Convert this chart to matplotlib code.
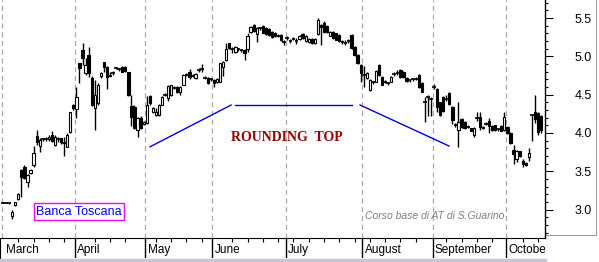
import matplotlib
matplotlib.use('Agg')
import matplotlib.pyplot as plt
from matplotlib.patches import Rectangle
from matplotlib.lines import Line2D
import numpy as np

plt.rcParams['font.family'] = ['Liberation Sans', 'DejaVu Sans']

months = ['March', 'April', 'May', 'June', 'July', 'August', 'September', 'October']
month_days = [24, 23, 22, 24, 25, 23, 24, 12]

# daily candles, one line per month
opens = [
    3.09, 3.09, 3.08, 2.92, 3.06, 3.14, 3.52, 3.56, 3.36, 3.48, 3.58, 3.96, 3.83, 3.92, 3.92, 3.92, 3.98, 3.84, 3.92, 3.93, 3.87, 3.82, 4.01, 4.36,
    4.31, 4.91, 5.08, 4.78, 5.02, 4.72, 4.33, 4.39, 4.74, 4.93, 4.86, 4.75, 4.78, 4.85, 4.83, 4.86, 4.86, 4.80, 4.35, 4.34, 4.04, 4.20, 4.12,
    4.13, 4.48, 4.27, 4.23, 4.23, 4.37, 4.50, 4.46, 4.49, 4.59, 4.60, 4.53, 4.63, 4.76, 4.80, 4.75, 4.72, 4.82, 4.84, 4.72, 4.72, 4.70,
    4.69, 4.66, 4.67, 4.86, 4.95, 5.17, 5.10, 5.06, 5.09, 5.08, 5.08, 5.10, 5.32, 5.41, 5.29, 5.37, 5.40, 5.37, 5.36, 5.32, 5.31, 5.27, 5.28, 5.19,
    5.24, 5.20, 5.23, 5.20, 5.23, 5.29, 5.20, 5.19, 5.23, 5.17, 5.29, 5.41, 5.44, 5.40, 5.27, 5.32, 5.30, 5.28, 5.19, 5.18, 5.20, 5.28, 5.12, 5.02, 4.89,
    4.76, 4.72, 4.56, 4.66, 4.67, 4.89, 4.73, 4.67, 4.65, 4.67, 4.77, 4.78, 4.82, 4.80, 4.72, 4.69, 4.70, 4.71, 4.76, 4.65, 4.40, 4.47, 4.44,
    4.60, 4.57, 4.40, 4.47, 4.45, 4.52, 4.34, 4.10, 4.04, 4.18, 4.14, 4.08, 4.06, 3.97, 4.19, 4.21, 4.06, 4.12, 4.15, 4.09, 4.10, 4.05, 4.09, 4.04,
    4.08, 4.00, 3.78, 3.66, 3.76, 3.63, 3.61, 3.69, 4.23, 4.27, 4.26, 4.22,
]
highs = [
    3.10, 3.10, 3.09, 2.99, 3.10, 3.21, 3.53, 3.58, 3.47, 3.53, 3.83, 4.04, 3.93, 3.94, 3.95, 3.98, 4.02, 3.98, 3.95, 3.94, 3.95, 4.00, 4.28, 4.38,
    4.60, 4.91, 5.17, 4.98, 5.12, 4.75, 4.69, 4.65, 4.79, 4.93, 4.87, 4.80, 4.81, 4.86, 4.85, 4.87, 4.87, 4.80, 4.50, 4.36, 4.21, 4.22, 4.15,
    4.48, 4.49, 4.34, 4.33, 4.38, 4.48, 4.52, 4.62, 4.63, 4.61, 4.61, 4.61, 4.77, 4.78, 4.84, 4.77, 4.78, 4.85, 4.90, 4.75, 4.73, 4.72,
    4.70, 4.72, 4.92, 4.94, 5.17, 5.17, 5.12, 5.14, 5.11, 5.10, 5.10, 5.30, 5.40, 5.42, 5.39, 5.39, 5.41, 5.38, 5.37, 5.33, 5.32, 5.29, 5.29, 5.21,
    5.26, 5.23, 5.25, 5.24, 5.28, 5.30, 5.28, 5.24, 5.24, 5.24, 5.50, 5.42, 5.46, 5.41, 5.33, 5.33, 5.31, 5.29, 5.22, 5.21, 5.23, 5.29, 5.13, 5.03, 4.90,
    4.87, 4.79, 4.70, 4.68, 4.82, 4.90, 4.74, 4.69, 4.67, 4.74, 4.79, 4.82, 4.83, 4.81, 4.73, 4.71, 4.72, 4.73, 4.77, 4.66, 4.47, 4.50, 4.47,
    4.64, 4.59, 4.41, 4.48, 4.50, 4.53, 4.35, 4.13, 4.40, 4.19, 4.15, 4.10, 4.07, 4.08, 4.27, 4.27, 4.09, 4.14, 4.20, 4.10, 4.11, 4.07, 4.10, 4.28,
    4.09, 4.01, 3.84, 3.78, 3.77, 3.66, 3.62, 3.80, 4.25, 4.50, 4.27, 4.23,
]
lows = [
    3.08, 3.08, 3.07, 2.88, 3.05, 3.13, 3.16, 3.40, 3.30, 3.47, 3.56, 3.84, 3.75, 3.90, 3.90, 3.90, 3.88, 3.83, 3.88, 3.86, 3.70, 3.82, 4.00, 4.30,
    4.20, 4.65, 4.89, 4.76, 4.73, 4.35, 4.04, 4.36, 4.72, 4.80, 4.57, 4.73, 4.76, 4.84, 4.81, 4.79, 4.80, 4.48, 4.09, 4.05, 3.95, 4.05, 4.11,
    4.12, 4.37, 4.26, 4.22, 4.22, 4.36, 4.48, 4.42, 4.48, 4.57, 4.52, 4.50, 4.62, 4.74, 4.70, 4.73, 4.71, 4.80, 4.80, 4.70, 4.64, 4.68,
    4.60, 4.65, 4.66, 4.75, 4.94, 5.10, 5.05, 5.04, 5.07, 5.06, 4.95, 5.06, 5.30, 5.32, 5.19, 5.35, 5.30, 5.28, 5.27, 5.24, 5.25, 5.25, 5.20, 5.15,
    5.21, 5.17, 5.21, 5.16, 5.22, 5.23, 5.19, 5.18, 5.16, 5.16, 5.28, 5.15, 5.30, 5.30, 5.26, 5.23, 5.21, 5.19, 5.16, 5.15, 5.17, 5.10, 5.01, 4.90, 4.67,
    4.60, 4.70, 4.55, 4.64, 4.66, 4.75, 4.62, 4.65, 4.63, 4.66, 4.75, 4.76, 4.72, 4.72, 4.67, 4.67, 4.68, 4.69, 4.59, 4.53, 4.14, 4.22, 4.22,
    4.57, 4.28, 4.22, 4.28, 4.42, 4.37, 4.12, 4.08, 3.82, 4.07, 4.05, 4.06, 4.02, 3.95, 4.15, 4.04, 4.05, 4.10, 4.00, 4.03, 4.03, 4.03, 4.02, 4.02,
    3.99, 3.86, 3.60, 3.62, 3.69, 3.55, 3.57, 3.64, 3.90, 4.13, 3.97, 4.00,
]
closes = [
    3.09, 3.09, 3.08, 2.97, 3.10, 3.20, 3.43, 3.41, 3.45, 3.52, 3.74, 3.88, 3.91, 3.92, 3.92, 3.95, 3.90, 3.95, 3.92, 3.88, 3.87, 3.97, 4.27, 4.33,
    4.47, 4.85, 4.98, 4.89, 4.78, 4.37, 4.50, 4.63, 4.78, 4.86, 4.73, 4.75, 4.78, 4.85, 4.83, 4.80, 4.81, 4.50, 4.21, 4.07, 4.20, 4.07, 4.14,
    4.37, 4.39, 4.33, 4.27, 4.37, 4.47, 4.50, 4.61, 4.62, 4.59, 4.54, 4.60, 4.76, 4.76, 4.73, 4.75, 4.77, 4.82, 4.84, 4.72, 4.65, 4.70,
    4.65, 4.71, 4.91, 4.93, 5.10, 5.11, 5.10, 5.12, 5.09, 5.08, 5.04, 5.27, 5.38, 5.33, 5.37, 5.37, 5.31, 5.29, 5.28, 5.25, 5.26, 5.27, 5.21, 5.19,
    5.24, 5.20, 5.23, 5.20, 5.27, 5.24, 5.27, 5.23, 5.17, 5.23, 5.47, 5.38, 5.32, 5.32, 5.32, 5.24, 5.22, 5.20, 5.19, 5.18, 5.20, 5.11, 5.02, 4.91, 4.78,
    4.76, 4.78, 4.69, 4.66, 4.81, 4.76, 4.63, 4.67, 4.65, 4.73, 4.77, 4.78, 4.73, 4.73, 4.68, 4.69, 4.70, 4.71, 4.60, 4.54, 4.40, 4.47, 4.44,
    4.60, 4.34, 4.23, 4.29, 4.45, 4.38, 4.17, 4.10, 4.14, 4.08, 4.06, 4.08, 4.03, 4.07, 4.19, 4.08, 4.08, 4.12, 4.09, 4.04, 4.04, 4.05, 4.03, 4.21,
    4.00, 3.87, 3.72, 3.76, 3.70, 3.60, 3.58, 3.74, 4.23, 4.18, 4.01, 4.04,
]

# rounding top outline (day index, price)
rise_x = [48.1, 74.6]
rise_y = [3.82, 4.365]
top_x = [75.9, 114.2]
top_y = [4.365, 4.365]
fall_x = [116.8, 145.9]
fall_y = [4.365, 3.83]

W, H = 599, 262
fig = plt.figure(figsize=(W / 100, H / 100), dpi=100)
fig.patch.set_facecolor('white')

xmin, xmax = -1.0, 177.3
ax = fig.add_axes([0, 24 / H, 545 / W, 238 / H])
ax.set_xlim(xmin, xmax)
ax.set_ylim(2.629, 5.736)

starts = np.cumsum([0] + month_days[:-1])
seps = starts - 0.5
for s in seps:
    ax.axvline(s, color='#a8a8a8', lw=0.9, ls=(0, (4, 3)), zorder=1)

w = 0.75
for i in range(len(opens)):
    o, h, l, c = opens[i], highs[i], lows[i], closes[i]
    ax.vlines(i, l, h, color='black', lw=1.0, zorder=2)
    if abs(c - o) < 0.005:
        ax.hlines(o, i - 0.6, i + 0.6, color='black', lw=1.2, zorder=3)
    else:
        fc = 'white' if c > o else 'black'
        ax.add_patch(Rectangle((i - w / 2, min(o, c)), w, abs(c - o),
                               facecolor=fc, edgecolor='black', lw=0.8, zorder=3))

ax.plot(rise_x, rise_y, color='#0000dd', lw=1)
ax.plot(top_x, top_y, color='#0000dd', lw=1)
ax.plot(fall_x, fall_y, color='#0000dd', lw=1)

ax.text(92.9, 3.935, 'ROUNDING  TOP', color='#990000', fontsize=10, fontweight='bold',
        family=['Liberation Serif', 'DejaVu Serif'], ha='center', va='center')
ax.text(10.8, 2.97, 'Banca Toscana', color='#0000ff', fontsize=9, ha='left', va='center',
        bbox=dict(boxstyle='square,pad=0.2', fc='white', ec='#ff00ff', lw=1))
ax.text(118.4, 2.92, 'Corso base di AT di S.Guarino', color='#808080', fontsize=7.5,
        style='italic', ha='left', va='center')

ax.yaxis.tick_right()
ax.set_yticks(np.arange(3.0, 5.51, 0.5))
ax.set_yticklabels(['%.1f' % v for v in np.arange(3.0, 5.51, 0.5)])
ax.set_yticks(np.arange(2.7, 5.75, 0.1), minor=True)
ax.tick_params(axis='y', which='major', direction='out', length=5.5, width=0.8, pad=16, labelsize=9)
ax.tick_params(axis='y', which='minor', direction='out', length=2.5, width=0.8)
ax.set_xticks([])
for side in ['left', 'top', 'bottom']:
    ax.spines[side].set_visible(False)
ax.spines['right'].set_linewidth(1)

# frame of the price label panel
panel = fig.add_axes([545 / W, 27 / H, 51 / W, 235 / H], zorder=-1)
panel.set_xticks([])
panel.set_yticks([])
for side in ['left', 'top']:
    panel.spines[side].set_visible(False)
for side in ['right', 'bottom']:
    panel.spines[side].set_color('#a0a0a0')

# month band
band = fig.add_axes([0, 4 / H, 545 / W, 20 / H])
band.set_xlim(xmin, xmax)
band.set_ylim(0, 1)
band.set_yticks([])
for side in ['right', 'bottom']:
    band.spines[side].set_visible(False)
band.xaxis.tick_top()
weeks = [k for k in range(5, 178, 5) if min(abs(k - seps)) > 1.5]
band.set_xticks(weeks)
band.tick_params(axis='x', direction='in', length=3, width=0.8, labeltop=False, labelbottom=False)
for s, name in zip(seps, months):
    if s > 0:
        band.axvline(s, color='black', lw=1)
    band.text(max(s, 0) + 0.8, 0.42, name, fontsize=8.5, ha='left', va='center', clip_on=True)

fig.add_artist(Line2D([0, 545 / W], [2 / H, 2 / H], color='#c8c8d8', lw=2.5))

fig.savefig('out.png', dpi=100)
